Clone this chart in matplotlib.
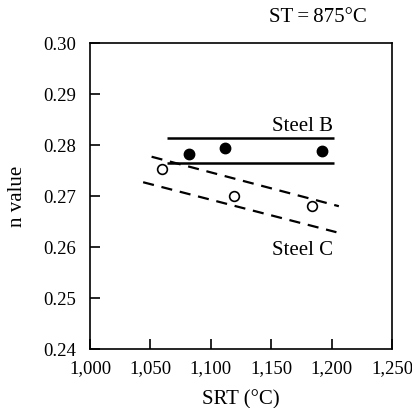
import matplotlib
matplotlib.use("Agg")
import matplotlib.pyplot as plt
from matplotlib.ticker import FuncFormatter

plt.rcParams['font.family'] = ['Liberation Serif', 'DejaVu Serif']

# Data
steelB_x = [1082, 1112, 1192]
steelB_y = [0.2783, 0.2795, 0.2789]
steelC_x = [1060, 1119, 1184]
steelC_y = [0.2752, 0.2700, 0.2680]

bandB_x = [1064, 1202]
bandB_upper = [0.2814, 0.2814]
bandB_lower = [0.2765, 0.2765]

bandC_upper_x = [1051, 1206]
bandC_upper_y = [0.2777, 0.2680]
bandC_lower_x = [1044, 1204]
bandC_lower_y = [0.2727, 0.2629]

xticks = [1000, 1050, 1100, 1150, 1200, 1250]
yticks = [0.24, 0.25, 0.26, 0.27, 0.28, 0.29, 0.30]

fig = plt.figure(figsize=(4.12, 4.08), dpi=100)
ax = fig.add_axes([0.2184, 0.1446, 0.7331, 0.75])

ax.plot(bandB_x, bandB_upper, color='black', lw=1.8, solid_capstyle='butt')
ax.plot(bandB_x, bandB_lower, color='black', lw=1.8, solid_capstyle='butt')
ax.plot(bandC_upper_x, bandC_upper_y, color='black', lw=1.6, dashes=(5, 3.5))
ax.plot(bandC_lower_x, bandC_lower_y, color='black', lw=1.6, dashes=(5, 3.5))

ax.plot(steelB_x, steelB_y, 'o', color='black', ms=7.5)
ax.plot(steelC_x, steelC_y, 'o', mfc='white', mec='black', mew=1.2, ms=7)

ax.text(1176, 0.2818, 'Steel B', ha='center', va='bottom', fontsize=15)
ax.text(1176, 0.2593, 'Steel C', ha='center', va='center', fontsize=15)
fig.text(318/412, 1 - 17/408, 'ST\u2009=\u2009875°C', ha='center', va='center', fontsize=15)

ax.set_xlim(1000, 1250)
ax.set_ylim(0.24, 0.30)
ax.set_xticks(xticks)
ax.set_yticks(yticks)
ax.xaxis.set_major_formatter(FuncFormatter(lambda v, p: f"{int(v):,}"))
ax.yaxis.set_major_formatter(FuncFormatter(lambda v, p: f"{v:.2f}"))
ax.tick_params(direction='in', length=7, width=1.2, labelsize=13.5, pad=10)
ax.tick_params(axis='x', pad=8)
for s in ax.spines.values():
    s.set_linewidth(1.2)

ax.set_xlabel('SRT (°C)', fontsize=15, labelpad=9)
ax.set_ylabel('n value', fontsize=15, labelpad=12)

fig.savefig('out.png', dpi=100)
